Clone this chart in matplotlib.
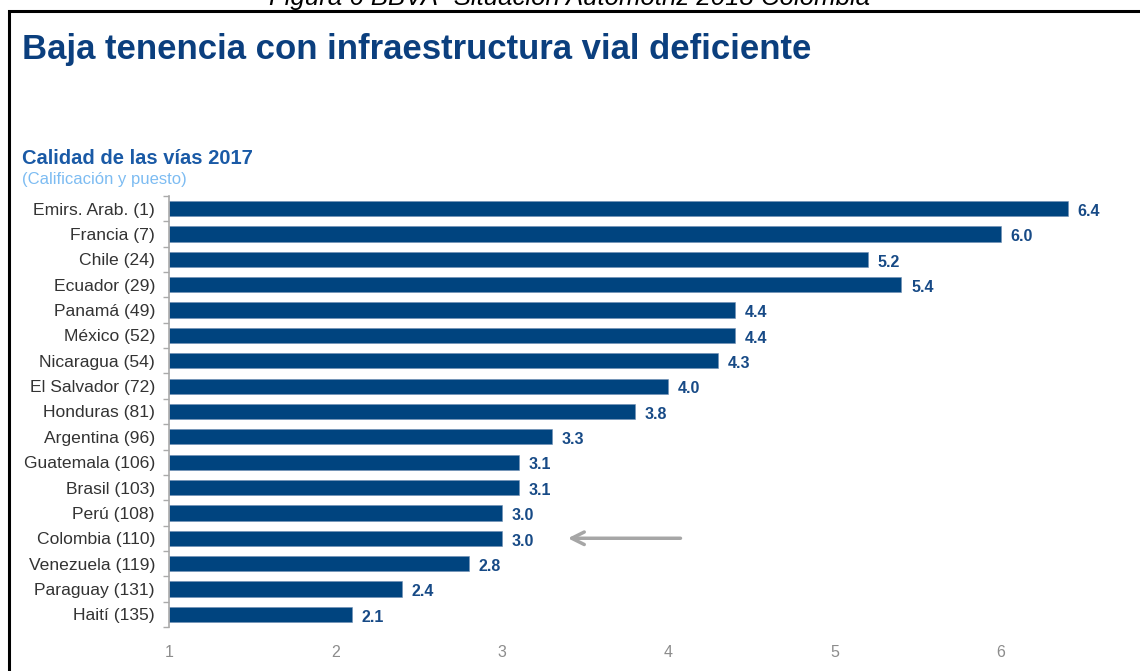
import numpy as np
import matplotlib.pyplot as plt
from matplotlib.patches import Rectangle

plt.rcParams['font.family'] = ['Liberation Sans', 'DejaVu Sans']

paises = ['Emirs. Arab. (1)', 'Francia (7)', 'Chile (24)', 'Ecuador (29)', 'Panamá (49)',
          'México (52)', 'Nicaragua (54)', 'El Salvador (72)', 'Honduras (81)', 'Argentina (96)',
          'Guatemala (106)', 'Brasil (103)', 'Perú (108)', 'Colombia (110)', 'Venezuela (119)',
          'Paraguay (131)', 'Haití (135)']
calificacion = [6.4, 6.0, 5.2, 5.4, 4.4, 4.4, 4.3, 4.0, 3.8, 3.3, 3.1, 3.1, 3.0, 3.0, 2.8, 2.4, 2.1]
resaltado = 'Colombia (110)'

azul = '#00447f'
fig = plt.figure(figsize=(11.4, 6.71), dpi=100)

# marco de la figura y pie de figura recortado arriba
fig.patches.append(Rectangle((9 / 1140, -0.01), 1.2, 1 - 10.5 / 671 + 0.01, transform=fig.transFigure,
                             fill=False, edgecolor='black', linewidth=2.2))
fig.text(0.5, 1 - 5 / 671, 'Figura 6 BBVA- Situación Automotriz 2018 Colombia', ha='center', va='baseline',
         fontsize=18.5, style='italic', color='black')

fig.text(22 / 1140, 1 - 50 / 671, 'Baja tenencia con infraestructura vial deficiente', ha='left', va='center',
         fontsize=25, fontweight='bold', color='#0b3f7e')
fig.text(22 / 1140, 1 - 158 / 671, 'Calidad de las vías 2017', ha='left', va='center',
         fontsize=14.5, fontweight='bold', color='#1a5aa6')
fig.text(22 / 1140, 1 - 180 / 671, '(Calificación y puesto)', ha='left', va='center',
         fontsize=12, color='#7dbcf2')

ax = fig.add_axes([169 / 1140, 44 / 671, (1101 - 169) / 1140, (627 - 196) / 671])
y = np.arange(len(paises))
barras = ax.barh(y, [v - 1 for v in calificacion], left=1, height=0.6, color=azul, edgecolor='#6f8fb5',
                 linewidth=0.4)
for rect, v in zip(barras, calificacion):
    ax.annotate(f'{v:.1f}', (rect.get_x() + rect.get_width(), rect.get_y() + rect.get_height() / 2),
                xytext=(7, -2), textcoords='offset points', ha='left', va='center',
                fontsize=11.5, fontweight='bold', color='#174a86')

fila = paises.index(resaltado)
ax.annotate('', xy=(3.38, fila), xytext=(4.09, fila),
            arrowprops=dict(arrowstyle='->,head_length=0.9,head_width=0.45', color='#a6a6a6', lw=2.5))

ax.set_xlim(1, 6.6)
ax.set_ylim(len(paises) - 0.5, -0.5)
ax.set_yticks(y)
ax.set_yticklabels(paises, fontsize=12.6, color='#333333')
ax.set_yticks(np.arange(len(paises) + 1) - 0.5, minor=True)
ax.tick_params(axis='y', which='major', length=0, pad=10)
ax.tick_params(axis='y', which='minor', length=4, color='#aaaaaa', width=1)
ax.set_xticks([1, 2, 3, 4, 5, 6])
ax.tick_params(axis='x', length=0, labelsize=11.5, labelcolor='#8c8c8c', pad=13)
for s in ['top', 'right', 'bottom']:
    ax.spines[s].set_visible(False)
ax.spines['left'].set_color('#aaaaaa')
ax.spines['left'].set_linewidth(1.2)

fig.savefig('out.png', dpi=100)
